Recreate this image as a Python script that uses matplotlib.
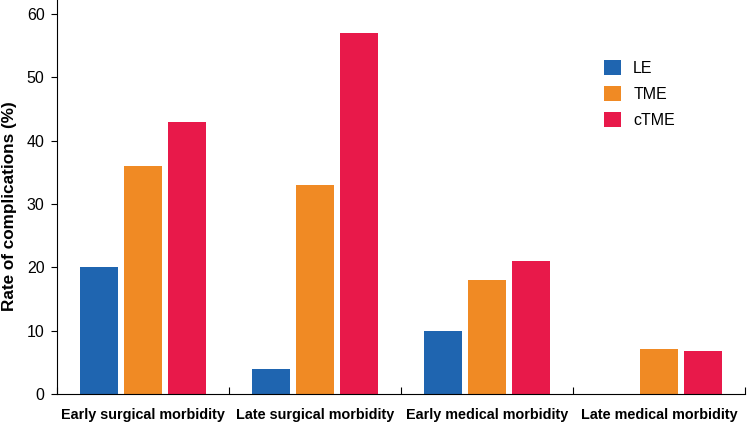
import matplotlib.pyplot as plt
import numpy as np

plt.rcParams['font.family'] = ['Liberation Sans', 'DejaVu Sans']

categories = ["Early surgical morbidity", "Late surgical morbidity",
              "Early medical morbidity", "Late medical morbidity"]
series = ["LE", "TME", "cTME"]
le = [20, 4, 10, 0]
tme = [36, 33, 18, 7.05]
ctme = [43, 57, 21, 6.85]
colors = ["#1f65b0", "#f08a24", "#e8194a"]

fig = plt.figure(figsize=(7.47, 4.22), dpi=100)
ax = fig.add_axes([57 / 747, 1 - 394 / 422, (745 - 57) / 747, 394 / 422])

centers = np.arange(len(categories)) + 0.5
width = 0.221
step = 0.256
for i, (vals, name) in enumerate(zip([le, tme, ctme], series)):
    ax.bar(centers + (i - 1) * step, vals, width, color=colors[i], label=name)

ax.set_xlim(0, len(categories))
ax.set_ylim(0, 394 / 6.333)
ax.set_yticks(np.arange(0, 61, 10))
ax.tick_params(axis='y', labelsize=11.5, direction='out', length=4, width=0.8, pad=5)

ax.set_xticks(np.arange(0, len(categories) + 1))
ax.set_xticklabels([])
ax.tick_params(axis='x', which='major', direction='in', length=5, width=0.8)
ax.set_xticks(centers, minor=True)
ax.set_xticklabels(categories, minor=True, fontsize=10.4, fontweight='bold')
ax.tick_params(axis='x', which='minor', length=0, pad=10)

# y label placed in figure coords so it stays inside the canvas
fig.text(10 / 747, 1 - 206 / 422, "Rate of complications (%)", rotation=90,
         ha='center', va='center', fontsize=12.3, fontweight='bold')

for s in ['top', 'right']:
    ax.spines[s].set_visible(False)
for s in ['left', 'bottom']:
    ax.spines[s].set_linewidth(0.8)

ax.legend(loc='upper left', bbox_to_anchor=(590 / 747, 1 - 46 / 422),
          bbox_transform=fig.transFigure, frameon=False, fontsize=11.5,
          handlelength=1.05, handleheight=1.05, labelspacing=0.62, handletextpad=0.75)

fig.savefig("out.png", dpi=100)
